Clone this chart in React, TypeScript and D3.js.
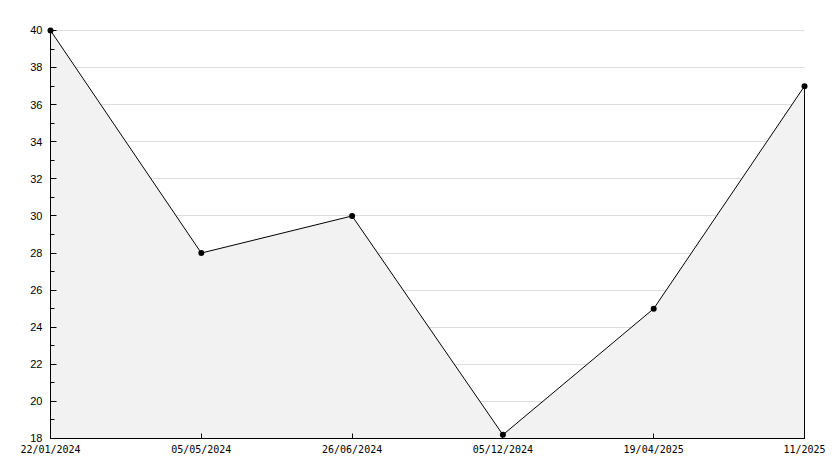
import React from "react";
import * as d3 from "d3";

const categories = ["22/01/2024", "05/05/2024", "26/06/2024", "05/12/2024", "19/04/2025", "11/2025"];
const values = [40, 28, 30, 18.2, 25, 37];
const yMajorTicks = [18, 20, 22, 24, 26, 28, 30, 32, 34, 36, 38, 40];
const yMinorTicks = [19, 21, 23, 25, 27, 29, 31, 33, 35, 37, 39];

const W = 834;
const H = 468;
const margin = { left: 50, right: 30, top: 30, bottom: 30 };

export default function App() {
  const x = d3
    .scalePoint<string>()
    .domain(categories)
    .range([margin.left + 0.5, W - margin.right + 0.5]);
  const y = d3
    .scaleLinear()
    .domain([18, 40])
    .range([H - margin.bottom + 0.5, margin.top + 0.5]);

  const data = categories.map((c, i) => ({ c, v: values[i] }));
  const line = d3
    .line<{ c: string; v: number }>()
    .x((d) => x(d.c)!)
    .y((d) => y(d.v));
  const area = d3
    .area<{ c: string; v: number }>()
    .x((d) => x(d.c)!)
    .y0(y(18))
    .y1((d) => y(d.v));

  const x0 = x(categories[0])!;
  const x1 = x(categories[categories.length - 1])!;
  const yb = y(18);
  const py = (t: number) => Math.floor(y(t)) + 0.5;
  const px = (c: string) => Math.floor(x(c)!) + 0.5;

  return (
    <svg
      width={W}
      height={H}
      style={{ position: "absolute", left: 0, top: 0, background: "#fff" }}
    >
      <rect x={0} y={0} width={W} height={H} fill="#fff" />
      {yMajorTicks.map((t) => (
        <line
          key={"g" + t}
          x1={x0}
          x2={x1}
          y1={py(t)}
          y2={py(t)}
          stroke="#dddddd"
          strokeWidth={1}
        />
      ))}
      <path d={area(data)!} fill="#f2f2f2" stroke="none" />
      <line x1={x1} x2={x1} y1={y(values[values.length - 1])} y2={yb} stroke="#000" />
      <path d={line(data)!} fill="none" stroke="#000" strokeWidth={1} />
      {/* axes */}
      <line x1={x0} x2={x0} y1={margin.top} y2={yb} stroke="#000" />
      <line x1={x0 - 0.5} x2={x1 + 0.5} y1={yb} y2={yb} stroke="#000" />
      {yMajorTicks.map((t) => (
        <g key={"mt" + t}>
          <line x1={x0} x2={x0 + 6} y1={py(t)} y2={py(t)} stroke="#000" />
          <text
            x={x0 - 8}
            y={y(t)}
            dy="0.35em"
            textAnchor="end"
            fontFamily="Liberation Sans, Arial, sans-serif"
            fontSize={11}
            fill="#000"
          >
            {t}
          </text>
        </g>
      ))}
      {yMinorTicks.map((t) => (
        <line key={"mn" + t} x1={x0} x2={x0 + 4} y1={py(t)} y2={py(t)} stroke="#000" />
      ))}
      {categories.map((c, i) => (
        <g key={"xt" + c}>
          {i > 0 && i < categories.length - 1 && (
            <line x1={px(c)} x2={px(c)} y1={yb - 5} y2={yb} stroke="#000" />
          )}
          <text
            x={x(c)!}
            y={yb + 14.5}
            textAnchor="middle"
            fontFamily="DejaVu Sans Mono, monospace"
            fontSize={10}
            fill="#000"
          >
            {c}
          </text>
        </g>
      ))}
      {data.map((d) => (
        <circle key={"mc" + d.c} cx={x(d.c)!} cy={y(d.v)} r={3} fill="#000" />
      ))}
    </svg>
  );
}
